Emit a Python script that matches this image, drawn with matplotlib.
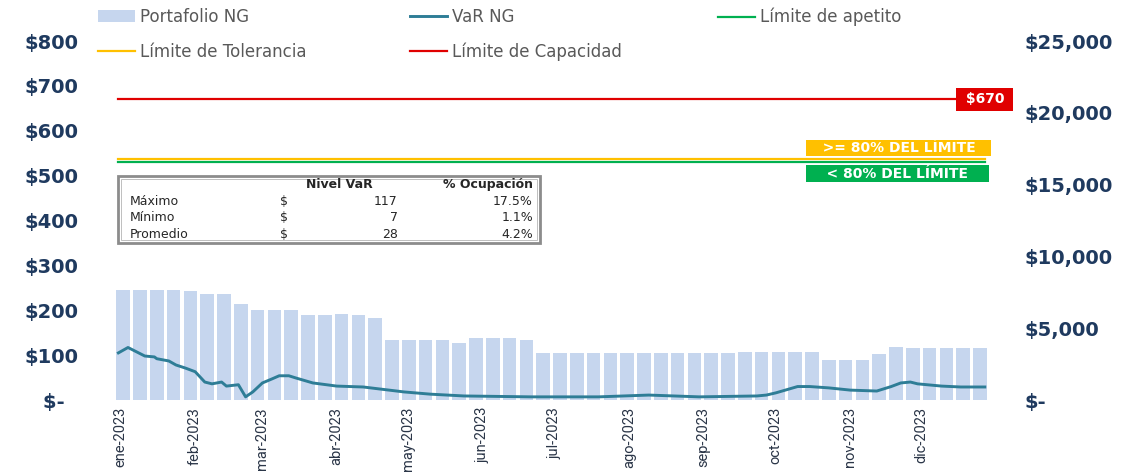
import matplotlib
matplotlib.use("Agg")
import matplotlib.pyplot as plt
import matplotlib.dates as mdates
import matplotlib.transforms as mtransforms
from matplotlib.patches import Rectangle
from matplotlib.ticker import FuncFormatter, MultipleLocator, FixedLocator
import pandas as pd

plt.rcParams["font.family"] = ["DejaVu Sans"]

# ---- data ----
# one bar per trading week, right axis
week_start = pd.date_range("2023-01-02", periods=52, freq="W-MON")
portfolio = [7640, 7640, 7640, 7640, 7600, 7400, 7350, 6700, 6300, 6250,
             6250, 5900, 5900, 6000, 5900, 5690, 4160, 4160, 4160, 4160,
             4000, 4300, 4300, 4300, 4200, 3260, 3260, 3260, 3260, 3260,
             3260, 3260, 3260, 3260, 3260, 3260, 3260, 3330, 3330, 3330,
             3330, 3330, 2780, 2780, 2780, 3200, 3700, 3620, 3620, 3620,
             3620, 3620]

# VaR NG, left axis
var_dates = pd.to_datetime([
    "2023-01-02", "2023-01-06", "2023-01-13", "2023-01-17", "2023-01-18",
    "2023-01-23", "2023-01-26", "2023-01-30", "2023-02-03", "2023-02-07",
    "2023-02-10", "2023-02-14", "2023-02-16", "2023-02-21", "2023-02-24",
    "2023-02-27", "2023-03-03", "2023-03-07", "2023-03-10", "2023-03-14",
    "2023-03-17", "2023-03-24", "2023-04-03", "2023-04-14", "2023-05-01",
    "2023-05-12", "2023-05-26", "2023-06-23", "2023-07-21", "2023-08-11",
    "2023-09-01", "2023-09-25", "2023-09-29", "2023-10-03", "2023-10-12",
    "2023-10-17", "2023-10-25", "2023-11-03", "2023-11-14", "2023-11-20",
    "2023-11-24", "2023-11-28", "2023-12-01", "2023-12-11", "2023-12-19",
    "2023-12-29"])
var_values = [105, 117, 98, 96, 92, 87, 78, 71, 63, 40,
              36, 40, 31, 34, 7, 18, 38, 47, 54, 54,
              49, 38, 31, 29, 18, 13, 9, 7, 7, 11,
              7, 9, 11, 16, 30, 30, 27, 22, 20, 30,
              38, 40, 36, 31, 29, 29]

limite_apetito = 530
limite_tolerancia = 536
limite_capacidad = 670

table_header = ["", "Nivel VaR", "% Ocupación"]
table_rows = ["Máximo", "Mínimo", "Promedio"]
table_var = [117, 7, 28]
table_pct = ["17.5%", "1.1%", "4.2%"]

month_starts = pd.date_range("2023-01-01", periods=12, freq="MS")
month_names = ["ene", "feb", "mar", "abr", "may", "jun",
               "jul", "ago", "sep", "oct", "nov", "dic"]

# ---- colours ----
bar_color = "#C6D6EE"
var_color = "#2E7D96"
green = "#00B050"
yellow = "#FFC000"
red = "#E00000"
axis_text = "#1F3A5F"
legend_text = "#595959"

W, H = 1145, 473
fig = plt.figure(figsize=(W / 100, H / 100), dpi=100)
ax = fig.add_axes([110 / W, 1 - 400 / H, 885 / W, 359 / H])
ax2 = ax.twinx()

# bars behind the lines
ax.set_zorder(ax2.get_zorder() + 1)
ax.patch.set_visible(False)

bars = ax2.bar(week_start + pd.Timedelta(days=2), portfolio, width=5.6,
               color=bar_color, edgecolor="none")

var_line, = ax.plot(var_dates, var_values, color=var_color, lw=2.1)

x_ends = [var_dates[0], var_dates[-1]]
ap_line, = ax.plot(x_ends, [limite_apetito] * 2, color=green, lw=1.6)
tol_line, = ax.plot(x_ends, [limite_tolerancia] * 2, color=yellow, lw=1.6)
cap_line, = ax.plot(x_ends, [limite_capacidad] * 2, color=red, lw=1.6)

# data labels at the end of the limit lines
ax.annotate(f" ${limite_capacidad} ", xy=(x_ends[1], limite_capacidad),
            ha="center", va="center", color="white", fontweight="bold", fontsize=10,
            bbox=dict(boxstyle="square,pad=0.3", fc=red, ec="none"),
            annotation_clip=False, zorder=5)
ax.annotate("   >= 80% DEL LÍMITE   ", xy=(x_ends[1], limite_tolerancia),
            xytext=(-62, 8.3), textcoords="offset points", ha="center", va="center",
            color="white", fontweight="bold", fontsize=10,
            bbox=dict(boxstyle="square,pad=0.1", fc=yellow, ec="none"),
            annotation_clip=False, zorder=5)
ax.annotate("    < 80% DEL LÍMITE    ", xy=(x_ends[1], limite_apetito),
            xytext=(-63, -8.3), textcoords="offset points", ha="center", va="center",
            color="white", fontweight="bold", fontsize=10,
            bbox=dict(boxstyle="square,pad=0.1", fc=green, ec="none"),
            annotation_clip=False, zorder=5)

# axes ranges
ax.set_xlim(pd.Timestamp("2022-12-29 12:00"), pd.Timestamp("2024-01-02 06:00"))
ax.set_ylim(0, 800)
ax2.set_ylim(0, 25000)
ax.yaxis.set_major_locator(MultipleLocator(100))
ax2.yaxis.set_major_locator(MultipleLocator(5000))

ax.yaxis.set_major_formatter(FuncFormatter(lambda v, p: "$-  " if v == 0 else f"${v:,.0f}"))
ax2.yaxis.set_major_formatter(FuncFormatter(lambda v, p: "$-" if v == 0 else f"${v:,.0f}"))

ax.xaxis.set_major_locator(FixedLocator(mdates.date2num(month_starts)))
ax.xaxis.set_major_formatter(FuncFormatter(
    lambda v, p: f"{month_names[mdates.num2date(v).month - 1]}-{mdates.num2date(v).year}"))

for a in (ax, ax2):
    for s in a.spines.values():
        s.set_visible(False)

ax.tick_params(axis="y", length=0, pad=23, labelsize=14, labelcolor=axis_text)
ax2.tick_params(axis="y", length=0, pad=21, labelsize=14, labelcolor=axis_text)
for lab in ax.get_yticklabels() + ax2.get_yticklabels():
    lab.set_fontweight("bold")

ax.tick_params(axis="x", length=0, pad=5, labelsize=10.5, labelcolor="#2A3547")
shift = mtransforms.ScaledTranslation(4 / 100, 0, fig.dpi_scale_trans)
for lab in ax.get_xticklabels():
    lab.set_rotation(90)
    lab.set_fontfamily(["Liberation Sans Narrow", "Roboto"])
    lab.set_transform(lab.get_transform() + shift)

# summary table (axes coords)
tx0, tx1, ty0, ty1 = 0.009, 0.486, 0.437, 0.624
ax.add_patch(Rectangle((tx0, ty0), tx1 - tx0, ty1 - ty0, transform=ax.transAxes,
                       fc="white", ec="#8C8C8C", lw=2.0, zorder=6))
ax.add_patch(Rectangle((tx0 + 0.003, ty0 + 0.008), tx1 - tx0 - 0.006, ty1 - ty0 - 0.016,
                       transform=ax.transAxes, fc="none", ec="#BFBFBF", lw=0.7, zorder=6))
tkw = dict(transform=ax.transAxes, fontsize=9, color="#262626", va="center", zorder=7)
ax.text(0.259, 0.599, table_header[1], ha="center", fontweight="bold", **tkw)
ax.text(0.478, 0.599, table_header[2], ha="right", fontweight="bold", **tkw)
row_y = [0.552, 0.507, 0.460]
for name, val, pct, y in zip(table_rows, table_var, table_pct, row_y):
    ax.text(0.0226, y, name, ha="left", **tkw)
    ax.text(0.192, y, "$", ha="left", **tkw)
    ax.text(0.325, y, f"{val}", ha="right", **tkw)
    ax.text(0.478, y, pct, ha="right", **tkw)

# legend: three columns placed like the original
lkw = dict(frameon=False, fontsize=12, labelcolor=legend_text, handlelength=2.2,
           handletextpad=0.3, labelspacing=1.0, borderpad=0, borderaxespad=0,
           loc="upper left")
fig.legend([bars, tol_line], ["Portafolio NG", "Límite de Tolerancia"],
           bbox_to_anchor=(98 / W, 1 - 8 / H), **lkw)
fig.legend([var_line, cap_line], ["VaR NG", "Límite de Capacidad"],
           bbox_to_anchor=(410 / W, 1 - 8 / H), **lkw)
fig.legend([ap_line], ["Límite de apetito"],
           bbox_to_anchor=(718 / W, 1 - 8 / H), **lkw)

fig.savefig("out.png", dpi=100)
